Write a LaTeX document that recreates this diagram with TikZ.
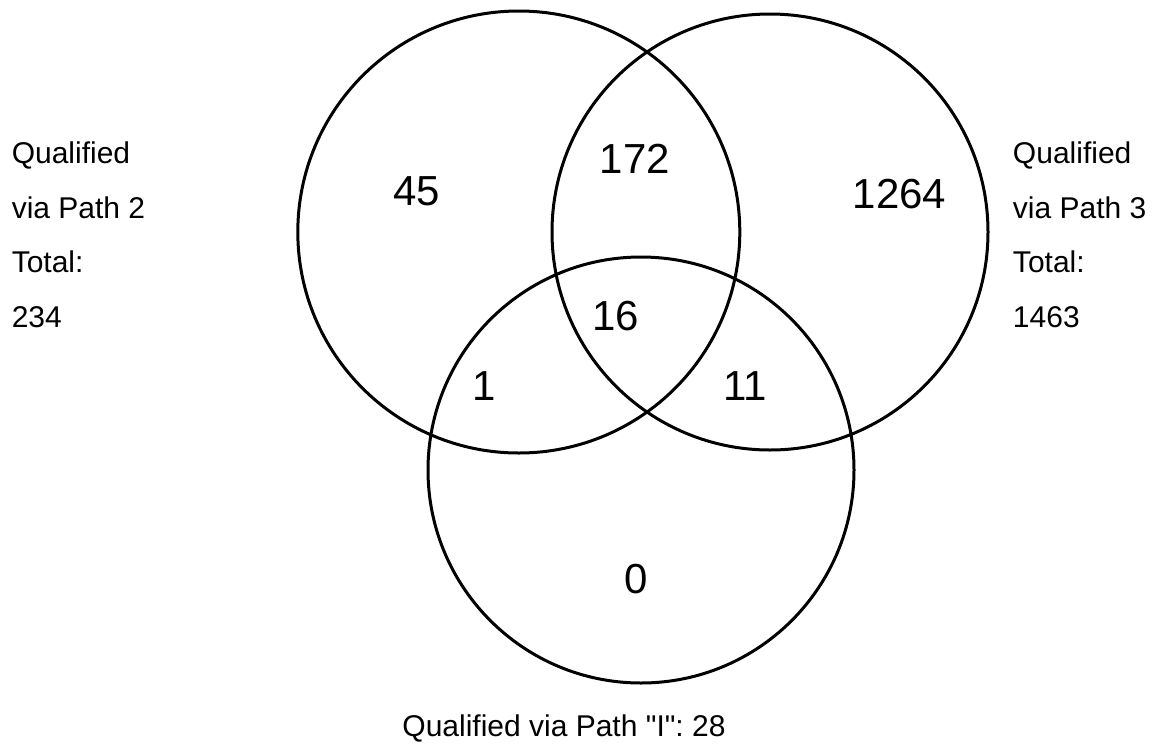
\documentclass[tikz,border=0pt]{standalone}
\usepackage{fontspec}
\setmainfont{Liberation Sans}
\newfontfamily\lsans{Liberation Sans}
\frenchspacing
\begin{document}
\begin{tikzpicture}[x=0.75pt,y=-0.75pt,
  vcirc/.style={draw=black,line width=2.25pt,circle,inner sep=0pt,outer sep=0pt},
  num/.style={anchor=base,inner sep=0pt,font=\lsans\fontsize{31.5pt}{36pt}\selectfont},
  lbl/.style={anchor=base west,inner sep=0pt,font=\lsans\fontsize{22.5pt}{26pt}\selectfont},
  btm/.style={anchor=base,inner sep=0pt,font=\lsans\frenchspacing\fontsize{22.5pt}{26pt}\selectfont}]
\useasboundingbox[fill=white] (0,0) rectangle (1156,743);
% circles
\node[vcirc,minimum size=331.5pt] (p2) at (518.8,232) {};
\node[vcirc,minimum size=327pt] (p3) at (770,232) {};
\node[vcirc,minimum size=319.5pt] (pI) at (641,470) {};
% region counts
\node[num] (n45) at (416.5,205) {45};
\node[num] (n172) at (634.7,173.3) {172};
\node[num] (n1264) at (899.5,208) {1264};
\node[num] (n16) at (615.7,330) {16};
\node[num] (n1) at (484,400) {1};
\node[num] (n11) at (745,400) {11};
\node[num] (n0) at (636,593) {0};
% left labels
\node[lbl] (l1) at (11.5,163.5) {Qualified};
\node[lbl] (l2) at (11.5,218) {via Path 2};
\node[lbl] (l3) at (11.5,272.5) {Total:};
\node[lbl] (l4) at (11.5,327) {234};
% right labels
\node[lbl] (r1) at (1012.7,163.5) {Qualified};
\node[lbl] (r2) at (1012.7,218) {via Path 3};
\node[lbl] (r3) at (1012.7,272.5) {Total:};
\node[lbl] (r4) at (1012.7,327) {1463};
% bottom label
\node[btm] (b1) at (564,736) {Qualified via Path "I": 28};
\end{tikzpicture}
\end{document}
